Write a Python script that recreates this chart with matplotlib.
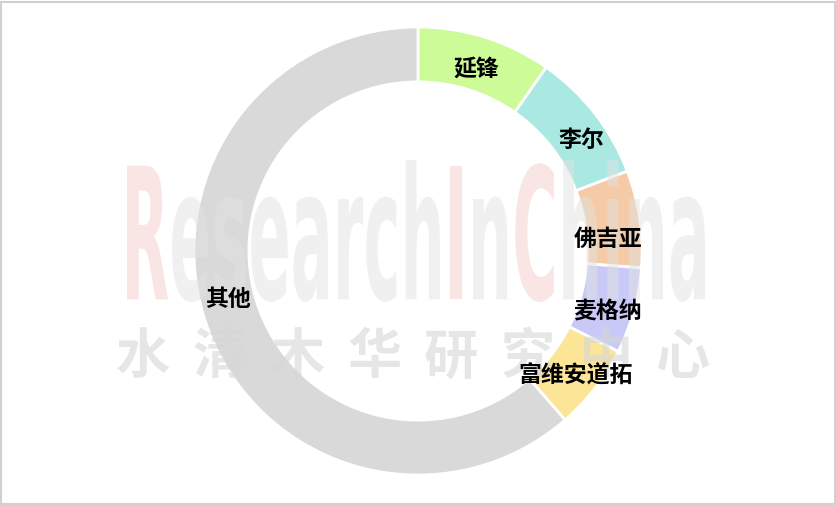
import matplotlib.pyplot as plt
from matplotlib.textpath import TextPath
from matplotlib.patches import PathPatch
from matplotlib.font_manager import FontProperties
from matplotlib.transforms import Affine2D

plt.rcParams['font.family'] = ['Noto Sans CJK SC', 'DejaVu Sans']

# === data ===
companies = ['延锋', '李尔', '佛吉亚', '麦格纳', '富维安道拓', '其他']
shares = [9.7, 9.5, 7.0, 6.2, 6.2, 61.4]
colors = ['#ccfb98', '#a9e9e2', '#f5cba7', '#c9c9f8', '#fde597', '#d9d9d9']

W, H = 837, 505
fig = plt.figure(figsize=(W / 100, H / 100), dpi=100)

# donut, centre ~ (418, 251) px from top, radius ~224 px
cx, cy, R = 418, H - 251, 224
ax = fig.add_axes([(cx - R) / W, (cy - R) / H, 2 * R / W, 2 * R / H])
wedges, texts = ax.pie(shares, labels=companies, colors=colors, startangle=90,
                       counterclock=False, radius=1.0, labeldistance=0.875,
                       wedgeprops=dict(width=0.245, edgecolor='white', linewidth=2),
                       textprops=dict(fontsize=16.5, fontweight='bold', color='black',
                                      ha='center', va='center', zorder=4))
ax.set_xlim(-1, 1)
ax.set_ylim(-1, 1)
ax.set_aspect('equal')
ax.axis('off')

# nudge labels a bit (pixels: right, down) to sit like the original
nudges = [(0, 5), (9, 10), (-4, 17), (0, 9), (3, 5), (-6, -20)]
for t, (dx, dy) in zip(texts, nudges):
    x, y = t.get_position()
    t.set_position((x + dx / R, y - dy / R))

# === watermark, drawn over the ring but under the labels ===
px = Affine2D().scale(1 / W, 1 / H) + fig.transFigure
fp = FontProperties(family='DejaVu Sans', weight='bold')
parts = [('R', '#f7cccc'), ('esearch', '#e2e2e2'), ('I', '#f7cccc'),
         ('n', '#e2e2e2'), ('C', '#f7cccc'), ('hina', '#e2e2e2')]
full = TextPath((0, 0), 'ResearchInChina', size=100, prop=fp)
fb = full.get_extents()
sx = (705 - 127) / fb.width
sy = (302 - 160) / fb.height
x0 = 0.0
for txt, col in parts:
    tp = TextPath((x0, 0), txt, size=100, prop=fp)
    x0 = x0 + TextPath((0, 0), txt + '|', size=100, prop=fp).get_extents().x1 \
        - TextPath((0, 0), '|', size=100, prop=fp).get_extents().x1
    tr = Affine2D().translate(-fb.x0, -fb.y0).scale(sx, sy).translate(127, H - 302)
    ax.add_patch(PathPatch(tr.transform_path(tp), facecolor=col, edgecolor='none',
                           alpha=0.5, transform=px, clip_on=False, zorder=2))

for i, ch in enumerate('水清木华研究中心'):
    ax.text((143 + i * 77) / W, 1 - 358 / H, ch, fontsize=39, color='#d6d6d6', alpha=0.6,
            fontweight='bold', ha='center', va='center', family='Noto Sans CJK SC',
            transform=fig.transFigure, zorder=2)

# frame
fig.patches.append(plt.Rectangle((0.001, 0.002), 0.997, 0.995, transform=fig.transFigure,
                                 fill=False, edgecolor='#d0d0d0', linewidth=1.5))

plt.savefig('out.png', dpi=100)
